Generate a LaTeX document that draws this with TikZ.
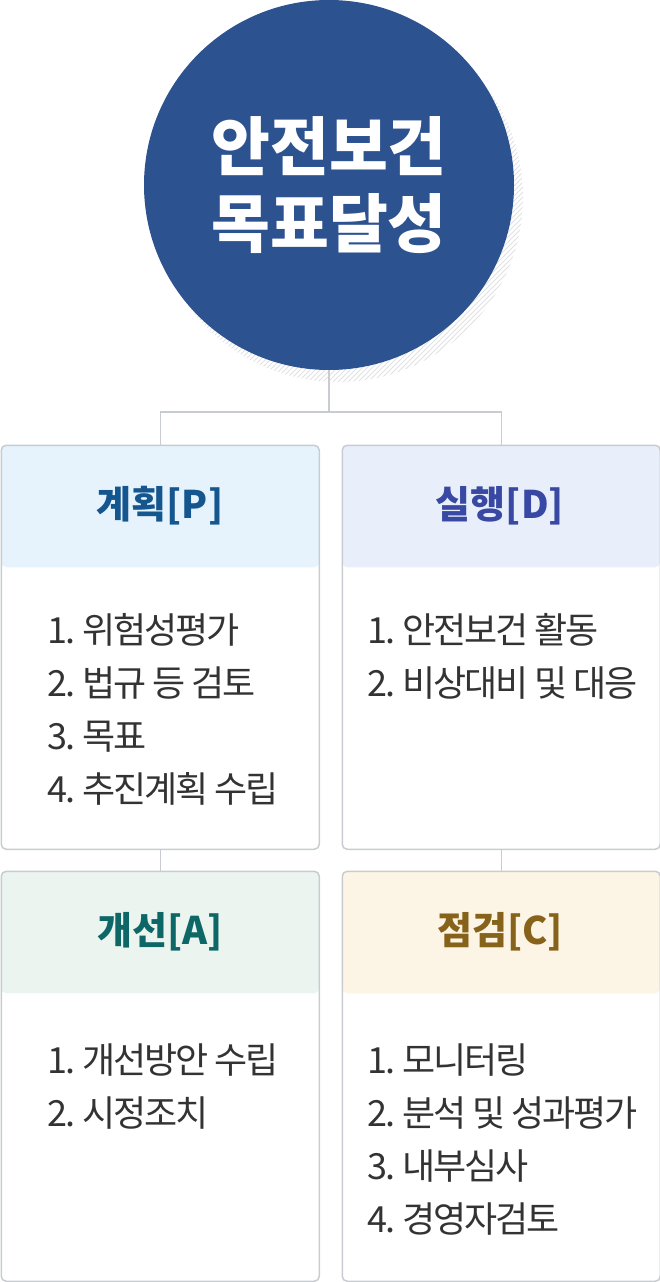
\documentclass[tikz,border=0pt]{standalone}
\usepackage{fontspec}
\setmainfont{Noto Sans CJK KR}
\newfontfamily\listfont{Noto Sans CJK KR}[LetterSpace=-6]
\usetikzlibrary{positioning}
\definecolor{circblue}{HTML}{2D5290}
\definecolor{boxline}{HTML}{C8CCD1}
\definecolor{hatchgray}{HTML}{E0E1E3}
\definecolor{listtext}{HTML}{333333}
\definecolor{hdrP}{HTML}{E6F3FD}
\definecolor{titP}{HTML}{15568F}
\definecolor{hdrD}{HTML}{E8EFFB}
\definecolor{titD}{HTML}{3848A3}
\definecolor{hdrA}{HTML}{EBF4EF}
\definecolor{titA}{HTML}{0D6767}
\definecolor{hdrC}{HTML}{FCF5E5}
\definecolor{titC}{HTML}{87621A}

\begin{document}
\begin{tikzpicture}[x=1pt, y=-1pt,
    link/.style={draw=boxline, line width=1.5pt},
    stage/.style={draw=boxline, line width=1.5pt, rounded corners=5pt,
        minimum width=318pt, inner sep=0pt, anchor=north west,
        path picture={\fill[#1] (path picture bounding box.north west)
            rectangle ([yshift=-122pt]path picture bounding box.north east);}},
    title/.style={font=\bfseries\fontsize{38}{40}\selectfont},
    items/.style={font=\listfont\fontsize{36}{53}\selectfont, text=listtext,
        align=left, anchor=base west, inner sep=0pt}
]
\useasboundingbox (0,0) rectangle (660,1282);

% hatched shadow of the circle
\begin{scope}
\clip (338,197) circle (185);
\foreach \a in {-100,-95,...,560}
    \draw[hatchgray, line width=0.9pt] (\a,420) -- ++(420,-420);
\end{scope}

\node[circle, fill=circblue, minimum size=370pt, inner sep=0pt, text=white,
    align=center, font=\bfseries\fontsize{64}{77}\selectfont] (circ) at (329,185)
    {안전보건\\목표달성};

\node[stage=hdrP, minimum height=404pt] (boxP) at (0.5,444.5) {};
\node[stage=hdrD, minimum height=404pt] (boxD) at (341.5,444.5) {};
\node[stage=hdrA, minimum height=410pt] (boxA) at (0.5,870.5) {};
\node[stage=hdrC, minimum height=410pt] (boxC) at (341.5,870.5) {};

\node[title, text=titP] (titleP) at (160,506) {계획[P]};
\node[title, text=titD] (titleD) at (500,506) {실행[D]};
\node[title, text=titA] (titleA) at (160,932) {개선[A]};
\node[title, text=titC] (titleC) at (500,932) {점검[C]};

% lists sit on the baseline of their last line
\node[items] (listP) at (47,802) {1. 위험성평가\\2. 법규 등 검토\\3. 목표\\4. 추진계획 수립};
\node[items] (listD) at (367,696) {1. 안전보건 활동\\2. 비상대비 및 대응};
\node[items] (listA) at (47,1126) {1. 개선방안 수립\\2. 시정조치};
\node[items] (listC) at (367,1232) {1. 모니터링\\2. 분석 및 성과평가\\3. 내부심사\\4. 경영자검토};

\coordinate (fork) at (329,412);
\draw[link] (circ.south) -- (fork);
\draw[link] (fork) -| (boxP.north);
\draw[link] (fork) -| (boxD.north);
\draw[link] (boxP.south) -- (boxA.north);
\draw[link] (boxD.south) -- (boxC.north);
\end{tikzpicture}
\end{document}
